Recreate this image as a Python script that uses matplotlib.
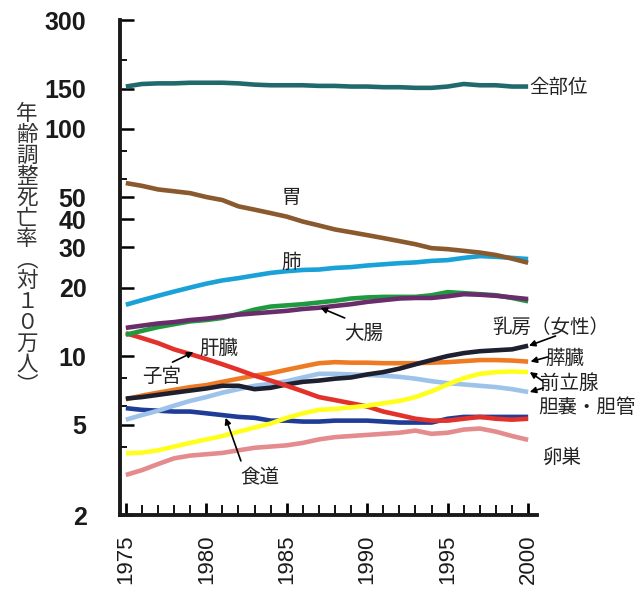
import numpy as np
import matplotlib
matplotlib.use("Agg")
import matplotlib.pyplot as plt
from matplotlib.ticker import FixedLocator, NullFormatter

plt.rcParams["font.family"] = ["Noto Sans CJK JP", "DejaVu Sans"]

years = np.arange(1975, 2001)

# age-adjusted mortality per 100,000, by site
all_sites = [153, 157, 158, 158, 159, 159, 159, 158, 156, 155, 155, 155, 154,
             154, 153, 153, 152, 152, 151, 151, 153, 157, 155, 155, 153, 153]
stomach = [57.6, 56, 54, 53, 52, 50, 48.5, 45.5, 44, 42.5, 41, 39, 37.5,
           36, 35, 34, 33, 32, 31, 29.8, 29.5, 29, 28.5, 27.8, 26.8, 25.7]
lung = [16.8, 17.6, 18.4, 19.2, 20.0, 20.8, 21.5, 22.0, 22.6, 23.2, 23.6, 23.9, 24.0,
        24.4, 24.6, 25.0, 25.3, 25.6, 25.8, 26.2, 26.4, 27.0, 27.5, 27.3, 27.0, 26.7]
colon_green = [12.4, 12.9, 13.4, 13.8, 14.2, 14.4, 14.7, 15.3, 16.0, 16.5, 16.7, 16.9, 17.2,
               17.5, 17.9, 18.1, 18.2, 18.2, 18.2, 18.5, 19.1, 18.9, 18.7, 18.5, 18.0, 17.4]
colon = [13.3, 13.6, 13.9, 14.1, 14.4, 14.6, 14.9, 15.2, 15.4, 15.6, 15.8, 16.1, 16.3,
         16.6, 16.9, 17.3, 17.6, 17.9, 18.0, 18.0, 18.3, 18.7, 18.6, 18.4, 18.1, 17.8]
liver = [12.6, 12.0, 11.4, 10.7, 10.2, 9.7, 9.2, 8.7, 8.2, 7.8, 7.4, 7.0, 6.6,
         6.4, 6.2, 6.0, 5.7, 5.5, 5.3, 5.2, 5.2, 5.3, 5.4, 5.3, 5.25, 5.3]
esophagus = [5.9, 5.8, 5.75, 5.7, 5.7, 5.6, 5.5, 5.4, 5.35, 5.2, 5.2, 5.15, 5.15,
             5.2, 5.2, 5.2, 5.15, 5.1, 5.1, 5.1, 5.3, 5.4, 5.4, 5.4, 5.4, 5.4]
breast = [6.5, 6.6, 6.75, 6.9, 7.05, 7.2, 7.4, 7.4, 7.15, 7.25, 7.5, 7.7, 7.8,
          7.95, 8.05, 8.3, 8.5, 8.8, 9.2, 9.6, 10.0, 10.3, 10.5, 10.6, 10.7, 11.1]
pancreas = [6.45, 6.7, 6.9, 7.1, 7.3, 7.45, 7.7, 7.95, 8.2, 8.4, 8.7, 9.0, 9.3,
            9.4, 9.35, 9.35, 9.3, 9.3, 9.3, 9.35, 9.4, 9.5, 9.6, 9.6, 9.55, 9.45]
gallbladder = [5.25, 5.5, 5.75, 6.05, 6.35, 6.6, 6.9, 7.15, 7.4, 7.55, 7.75, 8.05, 8.35,
               8.35, 8.3, 8.25, 8.2, 8.1, 7.95, 7.75, 7.6, 7.5, 7.4, 7.3, 7.15, 6.95]
prostate = [3.74, 3.76, 3.85, 4.0, 4.15, 4.3, 4.45, 4.65, 4.85, 5.05, 5.35, 5.6, 5.8,
            5.85, 5.95, 6.05, 6.2, 6.35, 6.6, 7.0, 7.5, 8.0, 8.35, 8.5, 8.55, 8.5]
ovary = [3.0, 3.15, 3.35, 3.55, 3.65, 3.7, 3.75, 3.85, 3.95, 4.0, 4.05, 4.15, 4.3,
         4.4, 4.45, 4.5, 4.55, 4.6, 4.7, 4.55, 4.6, 4.75, 4.8, 4.65, 4.45, 4.28]

y_major = [2, 5, 10, 20, 30, 40, 50, 100, 150, 300]
y_minor = [4, 6, 8, 60, 80, 200]
x_labels = [1975, 1980, 1985, 1990, 1995, 2000]

fig = plt.figure(figsize=(6.41, 5.89), dpi=100)
ax = fig.add_axes([0.187, 0.1256, 0.651, 0.8404])

# drawn back to front
series = [
    (ovary, "#e48b8e"),
    (esophagus, "#1f3c96"),
    (gallbladder, "#9dc3ea"),
    (pancreas, "#ee7b24"),
    (breast, "#1e2030"),
    (liver, "#e2322b"),
    (prostate, "#ffff1e"),
    (colon_green, "#1f9a3e"),
    (colon, "#6b2c6c"),
    (lung, "#1aa2d8"),
    (stomach, "#8a5a2e"),
    (all_sites, "#206a6e"),
]
for vals, col in series:
    ax.plot(years, vals, color=col, lw=3.3, solid_capstyle="butt")

ax.set_yscale("log")
ax.set_ylim(2, 300)
ax.set_xlim(1974.63, 2000.56)

ax.yaxis.set_major_locator(FixedLocator(y_major))
ax.yaxis.set_minor_locator(FixedLocator(y_minor))
ax.yaxis.set_minor_formatter(NullFormatter())
ax.set_yticklabels([str(v) for v in y_major], fontfamily="Liberation Sans",
                   fontweight="bold", fontsize=18, color="#1a1a1a")
ax.xaxis.set_major_locator(FixedLocator(x_labels))
ax.xaxis.set_minor_locator(FixedLocator(years))
ax.set_xticklabels([str(v) for v in x_labels], rotation=90,
                   fontfamily="Liberation Sans", fontsize=16, color="#1a1a1a")

ax.tick_params(axis="y", which="major", direction="in", length=10, width=1.8, pad=24)
ax.tick_params(axis="y", which="minor", direction="in", length=5, width=1.3)
ax.tick_params(axis="x", which="major", direction="in", length=9, width=2.0, pad=14)
ax.tick_params(axis="x", which="minor", direction="in", length=7, width=1.3)

for side in ["top", "right"]:
    ax.spines[side].set_visible(False)
for side in ["left", "bottom"]:
    ax.spines[side].set_linewidth(2.8)
    ax.spines[side].set_color("#1a1a1a")

fs = 14
txt = dict(fontsize=fs, color="#222222", va="center")
ax.text(2000.06, 150.8, "全部位", ha="left", **txt)
ax.text(1985.3, 50, "胃", ha="center", **txt)
ax.text(1985.3, 25.9, "肺", ha="center", **txt)
ax.text(1989.8, 12.6, "大腸", ha="center", **txt)
ax.text(1980.8, 10.85, "肝臓", ha="center", **txt)
ax.text(1977.2, 8.1, "子宮", ha="center", **txt)
ax.text(1983.3, 2.91, "食道", ha="center", **txt)
ax.text(1997.8, 13.3, "乳房（女性）", ha="left", clip_on=False, **txt)
ax.text(2001.06, 9.8, "膵臓", ha="left", clip_on=False, **txt)
ax.text(2000.75, 7.6, "前立腺", ha="left", clip_on=False, **txt)
ax.text(2000.62, 5.91, "胆嚢・胆管", ha="left", clip_on=False, **txt)
ax.text(2000.87, 3.6, "卵巣", ha="left", clip_on=False, **txt)

arrow = dict(arrowstyle="-|>", color="black", lw=1.2, mutation_scale=9,
             shrinkA=0, shrinkB=0)
pointers = [
    ((1987.1, colon[12]), (1988.6, 14.7)),
    ((1979.2, 10.4), (1977.9, 9.4)),
    ((1981.2, 5.35), (1982.15, 3.46)),
    ((2000.05, breast[-1]), (2001.7, 12.25)),
    ((2000.15, pancreas[-1]), (2001.2, 9.9)),
    ((2000.1, prostate[-1]), (2000.9, 7.77)),
    ((2000.1, gallbladder[-1]), (2000.95, 7.24)),
]
for tip, tail in pointers:
    ax.annotate("", xy=tip, xytext=tail, arrowprops=arrow, annotation_clip=False)

# vertical axis title, one character per row
ylabel = ["年", "齢", "調", "整", "死", "亡", "率", "︵", "対", "１", "０", "万", "人", "︶"]
top = 1 - 114 / 589
step = 20.9 / 589
for i, ch in enumerate(ylabel):
    fig.text(27 / 641, top - i * step, ch, ha="center", va="center",
             fontsize=15.5, color="#333333")

fig.savefig("out.png", dpi=100)
